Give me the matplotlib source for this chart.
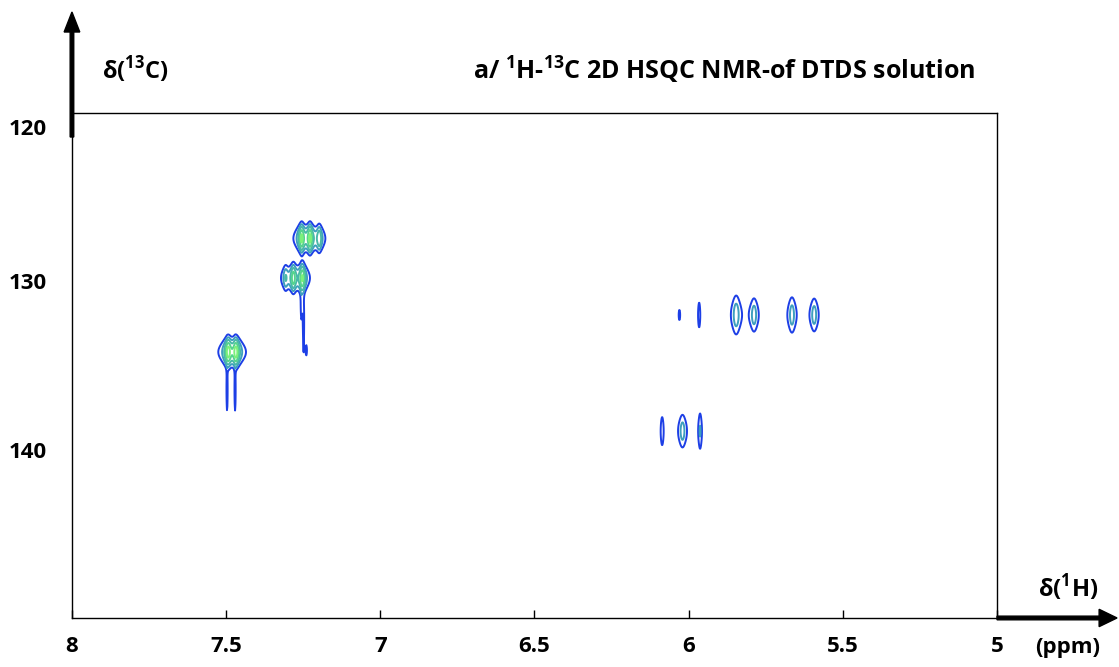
import numpy as np
import matplotlib
matplotlib.use("Agg")
import matplotlib.pyplot as plt
from matplotlib.transforms import ScaledTranslation

plt.rcParams['font.family'] = ['Open Sans', 'DejaVu Sans']
plt.rcParams['mathtext.fontset'] = 'custom'
plt.rcParams['mathtext.rm'] = 'Open Sans:bold'
plt.rcParams['mathtext.bf'] = 'Open Sans:bold'

# peak list: 1H shift (ppm), 13C shift (ppm), amplitude, x width, y width
peak_h = [7.493, 7.468, 7.255, 7.228, 7.198, 7.307, 7.282, 7.253,
          6.030, 5.966, 5.846, 5.788, 5.665, 5.593,
          6.086, 6.020, 5.963]
peak_c = [134.2, 134.2, 127.45, 127.45, 127.45, 129.8, 129.8, 129.8,
          132.0, 132.0, 132.0, 132.0, 132.0, 132.0,
          138.9, 138.9, 138.9]
peak_amp = [13, 13, 12, 12, 6, 3.5, 9, 11,
            1.3, 1.7, 3.2, 3.0, 3.0, 3.0,
            1.8, 3.0, 2.3]
peak_wh = [0.008, 0.008, 0.007, 0.007, 0.007, 0.007, 0.007, 0.007,
           0.004, 0.004, 0.011, 0.010, 0.010, 0.010,
           0.005, 0.010, 0.005]
peak_wc = [0.45, 0.45, 0.45, 0.45, 0.45, 0.45, 0.45, 0.45,
           0.4, 0.7, 0.75, 0.65, 0.7, 0.65,
           0.75, 0.65, 0.8]

# weak tails / artefacts below the aromatic peaks
tail_h = [7.497, 7.471, 7.249, 7.240, 7.256]
tail_c = [136.4, 136.4, 132.6, 134.1, 131.2]
tail_amp = [1.5, 1.5, 1.35, 1.3, 1.4]
tail_wh = [0.0025, 0.0025, 0.003, 0.003, 0.003]
tail_wc = [1.4, 1.4, 1.7, 0.35, 1.0]

levels = [1, 2.2, 4, 7, 11]
level_colors = ['#1d3fe6', '#3e9fbe', '#48b8a8', '#55d38e', '#7cf07a']

x_ticks = [8, 7.5, 7, 6.5, 6, 5.5, 5]
y_ticks = [120, 130, 140]

h = np.linspace(8, 5, 2400)
c = np.linspace(120, 150, 900)
H, C = np.meshgrid(h, c)
Z = np.zeros_like(H)
# lorentzian along 1H, gaussian along 13C
for x0, y0, a, g, sy in zip(peak_h + tail_h, peak_c + tail_c, peak_amp + tail_amp,
                            peak_wh + tail_wh, peak_wc + tail_wc):
    Z += a / (1 + ((H - x0) / g) ** 2) * np.exp(-((C - y0) ** 2) / (2 * sy ** 2))

fig = plt.figure(figsize=(11.19, 6.67), dpi=100)
ax = fig.add_axes([0.0643, 0.0735, 0.8267, 0.7571])
ax.contour(H, C, Z, levels=levels, colors=level_colors, linewidths=1.4)

ax.set_xlim(8, 5)
ax.set_ylim(150, 120)
ax.set_xticks(x_ticks)
ax.set_xticklabels([f"{t:g}" for t in x_ticks], fontsize=16, fontweight='bold')
ax.set_yticks(y_ticks)
ax.set_yticklabels([str(t) for t in y_ticks], fontsize=16, fontweight='bold')
ax.tick_params(axis='x', direction='in', length=6, width=1, pad=13)
ax.tick_params(axis='y', length=0, pad=18)
lab120 = ax.get_yticklabels()[0]
lab120.set_va('top')
lab120.set_transform(lab120.get_transform() + ScaledTranslation(0, -6 / 100, fig.dpi_scale_trans))
for s in ax.spines.values():
    s.set_linewidth(1.0)

# thick axis arrows
fig.patches.append(matplotlib.patches.FancyArrow(
    0.0643, 1 - 137 / 667, 0, (137 - 12) / 667, width=0.0032, head_width=0.014,
    head_length=0.03, length_includes_head=True, color='black', transform=fig.transFigure))
fig.patches.append(matplotlib.patches.FancyArrow(
    0.891, 0.0735, (1117 - 997) / 1119, 0, width=0.0055, head_width=0.026,
    head_length=0.016, length_includes_head=True, color='black', transform=fig.transFigure))

fig.text(135 / 1119, 1 - 70 / 667, r"δ($^{13}$C)", fontsize=17, fontweight='bold', ha='center', va='center')
fig.text(1068 / 1119, 1 - 588 / 667, r"δ($^{1}$H)", fontsize=17, fontweight='bold', ha='center', va='center')
fig.text(1068 / 1119, 1 - 648 / 667, "(ppm)", fontsize=16, fontweight='bold', ha='center', va='center')
fig.text(724 / 1119, 1 - 70 / 667, r"a/ $^{1}$H-$^{13}$C 2D HSQC NMR-of DTDS solution",
         fontsize=18, fontweight='bold', ha='center', va='center')

fig.savefig("out.png", dpi=100)
